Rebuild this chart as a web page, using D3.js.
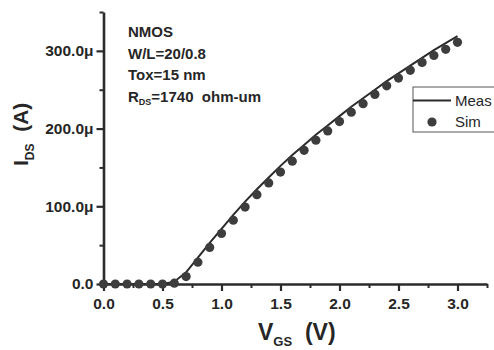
<!DOCTYPE html>
<html>
<head>
<meta charset="utf-8">
<script src="https://cdn.jsdelivr.net/npm/d3@7"></script>
<style>
  html, body { margin: 0; padding: 0; background: #fff; }
  svg { display: block; }
  text { font-family: "Liberation Sans", Arial, sans-serif; fill: #262626; }
</style>
</head>
<body>
<svg id="chart" width="494" height="350"></svg>
<script>
// ---- data (IDS in µA, VGS in V) ----
const vgs = [0.0,0.1,0.2,0.3,0.4,0.5,0.6,0.7,0.8,0.9,1.0,1.1,1.2,1.3,1.4,1.5,1.6,1.7,1.8,1.9,2.0,2.1,2.2,2.3,2.4,2.5,2.6,2.7,2.8,2.9,3.0];
const idsSim = [0,0,0,0,0,0,1,9.5,28,47,65,82,99,115,130,144,158,172,185,197,209,221,232,244,255,265,275,285,294,302,311];
const idsMeas = [0,0,0,0,0,0,3,15,34,53,71,89,106,122,137,152,166,179,192,204,216,228,239,250,261,271,281,291,301,310,319];
const xMajorTicks = [0.0,0.5,1.0,1.5,2.0,2.5,3.0];
const xMinorTicks = [0.25,0.75,1.25,1.75,2.25,2.75,3.25];
const yMajorTicks = [0,100,200,300];
const yMinorTicks = [50,150,250,350];
const annotations = ["NMOS","W/L=20/0.8","Tox=15 nm"];
const legendLabels = ["Meas","Sim"];

const svg = d3.select("#chart");
const ink = "#2b2b2b";

const x = d3.scaleLinear().domain([0, 3.25]).range([103.5, 487]);
const y = d3.scaleLinear().domain([0, 350]).range([284, 12]);

const fmtY = d => d === 0 ? "0.0" : d3.format(".1f")(d) + "\u03bc";

// minor ticks
const yMinor = svg.append("g").attr("transform", `translate(${x(0)},0)`)
  .call(d3.axisLeft(y).tickValues(yMinorTicks).tickSize(4).tickFormat(""));
const xMinor = svg.append("g").attr("transform", `translate(0,${y(0)})`)
  .call(d3.axisBottom(x).tickValues(xMinorTicks).tickSize(4).tickFormat(""));
[yMinor, xMinor].forEach(g => {
  g.select(".domain").remove();
  g.selectAll("line").attr("stroke", ink).attr("stroke-width", 2);
});

// major axes
const yAx = svg.append("g").attr("transform", `translate(${x(0)},0)`)
  .call(d3.axisLeft(y).tickValues(yMajorTicks).tickSize(7).tickSizeOuter(0).tickPadding(3).tickFormat(fmtY));
const xAx = svg.append("g").attr("transform", `translate(0,${y(0)})`)
  .call(d3.axisBottom(x).tickValues(xMajorTicks).tickSize(7).tickSizeOuter(0).tickPadding(7).tickFormat(d3.format(".1f")));
[yAx, xAx].forEach(g => {
  g.select(".domain").attr("stroke", ink).attr("stroke-width", 2.6);
  g.selectAll(".tick line").attr("stroke", ink).attr("stroke-width", 2.2);
  g.selectAll(".tick text").attr("fill", ink)
    .style("font-family", "'Liberation Sans', Arial, sans-serif")
    .style("font-size", "15.5px").style("font-weight", "bold");
});

// measured line
const line = d3.line().x((d, i) => x(vgs[i])).y(d => y(d));
svg.append("path").datum(idsMeas)
  .attr("d", line).attr("fill", "none")
  .attr("stroke", ink).attr("stroke-width", 2);

// simulated dots
svg.append("g").selectAll("circle").data(idsSim).join("circle")
  .attr("cx", (d, i) => x(vgs[i])).attr("cy", d => y(d))
  .attr("r", 4.6).attr("fill", "#3d3d3d");

// annotations
const ann = svg.append("g").style("font-size", "15px").style("font-weight", "bold");
annotations.forEach((t, i) => {
  ann.append("text").attr("x", 128).attr("y", 37 + i * 21.5).text(t);
});
const rds = ann.append("text").attr("x", 128).attr("y", 37 + 3 * 21.5);
rds.append("tspan").text("R");
rds.append("tspan").attr("dy", 3).style("font-size", "9px").text("DS");
rds.append("tspan").attr("dy", -3).text("=1740\u00a0 ohm-um");

// legend
svg.append("rect").attr("x", 413).attr("y", 87).attr("width", 100).attr("height", 45)
  .attr("fill", "#fff").attr("stroke", "#555").attr("stroke-width", 1);
svg.append("line").attr("x1", 413).attr("x2", 451).attr("y1", 100.5).attr("y2", 100.5)
  .attr("stroke", ink).attr("stroke-width", 2);
svg.append("circle").attr("cx", 432).attr("cy", 122).attr("r", 4.6).attr("fill", "#3d3d3d");
svg.append("text").attr("x", 455).attr("y", 106).style("font-size", "15px").text(legendLabels[0]);
svg.append("text").attr("x", 455).attr("y", 127).style("font-size", "15px").text(legendLabels[1]);

// x axis title
const xt = svg.append("text").attr("x", 258).attr("y", 340)
  .style("font-size", "23px").style("font-weight", "bold");
xt.append("tspan").text("V");
xt.append("tspan").attr("dy", 6).style("font-size", "13px").text("GS");
xt.append("tspan").attr("dy", -6).text("\u00a0\u00a0(V)");

// y axis title
const yt = svg.append("text").attr("transform", "translate(28,166) rotate(-90)")
  .style("font-size", "21px").style("font-weight", "bold");
yt.append("tspan").text("I");
yt.append("tspan").attr("dy", 6).style("font-size", "12px").text("DS");
yt.append("tspan").attr("dy", -6).text("\u00a0\u00a0(A)");
</script>
</body>
</html>
